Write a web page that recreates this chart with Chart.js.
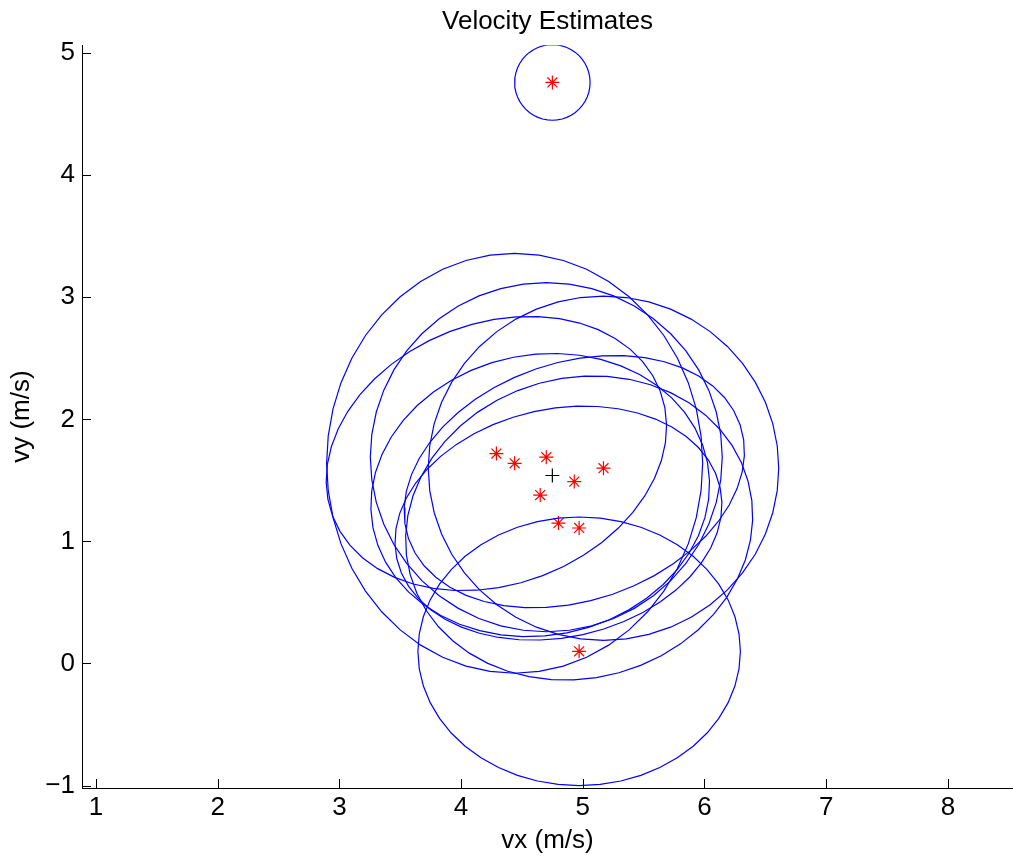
<!DOCTYPE html>
<html lang="en">
<head>
  <meta charset="UTF-8">
  <title>Velocity Estimates</title>
  <style>
    body {
      margin: 0;
      background-color: #ffffff;
    }
    canvas {
      display: block;
    }
  </style>
  <script src="https://cdn.jsdelivr.net/npm/chart.js"></script>
</head>
<body>
  <canvas id="chart" width="1013" height="859"></canvas>

  <script>
    // individual velocity estimates (red stars)
    const starVx = [4.75, 4.29, 4.44, 4.70, 5.17, 4.93, 4.65, 4.80, 4.97, 4.97];
    const starVy = [4.76, 1.72, 1.64, 1.69, 1.60, 1.49, 1.38, 1.15, 1.11, 0.10];

    // combined estimate (black cross)
    const meanVx = [4.75];
    const meanVy = [1.54];

    // uncertainty ellipses: centre, semi axes (m/s) and tilt (degrees)
    const ellCx = [4.75, 4.44, 4.70, 5.17, 4.29, 4.93, 4.65, 4.80, 4.97, 4.97];
    const ellCy = [4.76, 1.64, 1.69, 1.60, 1.72, 1.49, 1.38, 1.15, 1.11, 0.10];
    const ellA = [0.31, 1.545, 1.446, 1.44, 1.44, 1.44, 1.40, 1.36, 1.44, 1.325];
    const ellB = [0.31, 1.72, 1.43, 1.41, 1.07, 0.975, 1.15, 0.935, 1.23, 1.10];
    const ellTilt = [0, 0, 0, 0, 20.8, 18.9, 11, 12.4, 15.4, 0];

    const xTicks = [1, 2, 3, 4, 5, 6, 7, 8];
    const yTicks = [-1, 0, 1, 2, 3, 4, 5];

    const fontFamily = '"Liberation Sans", Arial, sans-serif';
    const nSeg = 48;

    // outline of one ellipse as a closed polyline
    function ellipsePoints(i) {
      const pts = [];
      const t = ellTilt[i] * Math.PI / 180;
      for (let k = 0; k <= nSeg; k++) {
        const a = 2 * Math.PI * k / nSeg;
        const u = ellA[i] * Math.cos(a);
        const v = ellB[i] * Math.sin(a);
        pts.push({
          x: ellCx[i] + u * Math.cos(t) - v * Math.sin(t),
          y: ellCy[i] + u * Math.sin(t) + v * Math.cos(t)
        });
      }
      return pts;
    }

    const datasets = ellCx.map((_, i) => ({
      data: ellipsePoints(i),
      showLine: true,
      borderColor: '#0000ff',
      borderWidth: 1.2,
      pointRadius: 0,
      tension: 0,
      fill: false
    }));

    datasets.push({
      data: starVx.map((x, i) => ({ x: x, y: starVy[i] })),
      pointStyle: 'star',
      pointRadius: 7,
      borderColor: '#ff0000',
      backgroundColor: '#ff0000',
      borderWidth: 1.2
    });

    datasets.push({
      data: meanVx.map((x, i) => ({ x: x, y: meanVy[i] })),
      pointStyle: 'cross',
      pointRadius: 7,
      borderColor: '#000000',
      borderWidth: 1.2
    });

    // matlab style ticks pointing into the axes
    const inwardTicks = {
      id: 'inwardTicks',
      afterDraw(chart) {
        const ctx = chart.ctx;
        const area = chart.chartArea;
        const xs = chart.scales.x;
        const ys = chart.scales.y;
        ctx.save();
        ctx.strokeStyle = '#000000';
        ctx.lineWidth = 1;
        ctx.beginPath();
        xs.ticks.forEach(t => {
          const px = Math.round(xs.getPixelForValue(t.value)) + 0.5;
          ctx.moveTo(px, area.bottom);
          ctx.lineTo(px, area.bottom - 9);
        });
        ys.ticks.forEach(t => {
          const py = Math.round(ys.getPixelForValue(t.value)) + 0.5;
          ctx.moveTo(area.left, py);
          ctx.lineTo(area.left + 9, py);
        });
        ctx.stroke();
        ctx.restore();
      }
    };

    const fmt = v => (v < 0 ? '\u2212' + Math.abs(v) : String(v));

    const ctx = document.getElementById('chart').getContext('2d');
    const chart = new Chart(ctx, {
      type: 'scatter',
      data: { datasets: datasets },
      options: {
        responsive: false,
        animation: false,
        layout: { padding: 0, autoPadding: false },
        plugins: {
          legend: { display: false },
          tooltip: { enabled: false },
          title: {
            display: true,
            text: 'Velocity Estimates',
            fullSize: false,
            color: '#000000',
            font: { family: fontFamily, size: 26, weight: 'normal' },
            padding: { top: 6, bottom: 8 }
          }
        },
        scales: {
          x: {
            type: 'linear',
            min: 0.885,
            max: 8.535,
            afterBuildTicks: s => { s.ticks = xTicks.map(v => ({ value: v })); },
            afterFit: s => { s.height = 71; s.paddingLeft = 0; s.paddingRight = 0; },
            grid: { display: false, drawTicks: false },
            border: { display: true, color: '#000000', width: 1 },
            ticks: {
              color: '#000000',
              padding: 4,
              font: { family: fontFamily, size: 26 },
              callback: fmt
            },
            title: {
              display: true,
              text: 'vx (m/s)',
              color: '#000000',
              font: { family: fontFamily, size: 26 },
              padding: { top: 0, bottom: 3 }
            }
          },
          y: {
            type: 'linear',
            min: -1.02,
            max: 5.065,
            afterBuildTicks: s => { s.ticks = yTicks.map(v => ({ value: v })); },
            afterFit: s => { s.width = 82; s.paddingTop = 0; s.paddingBottom = 0; },
            grid: { display: false, drawTicks: false },
            border: { display: true, color: '#000000', width: 1 },
            ticks: {
              color: '#000000',
              padding: 7,
              font: { family: fontFamily, size: 26 },
              callback: fmt
            },
            title: {
              display: true,
              text: 'vy (m/s)',
              color: '#000000',
              font: { family: fontFamily, size: 26 },
              padding: { top: 6, bottom: 0 }
            }
          }
        }
      },
      plugins: [inwardTicks]
    });
  </script>
</body>
</html>
